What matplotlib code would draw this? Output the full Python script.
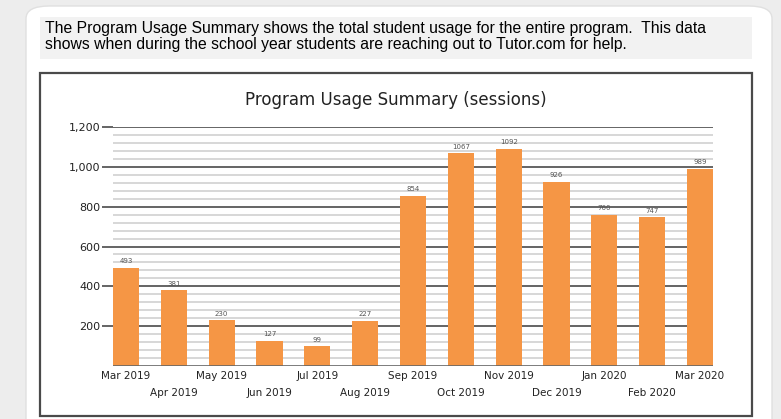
import numpy as np
import matplotlib.pyplot as plt
from matplotlib.patches import Rectangle, FancyBboxPatch

months = ["Mar 2019", "Apr 2019", "May 2019", "Jun 2019", "Jul 2019", "Aug 2019",
          "Sep 2019", "Oct 2019", "Nov 2019", "Dec 2019", "Jan 2020", "Feb 2020", "Mar 2020"]
sessions = [493, 381, 230, 127, 99, 227, 854, 1067, 1092, 926, 760, 747, 989]
yticks = [200, 400, 600, 800, 1000, 1200]

W, H = 781, 419
fig = plt.figure(figsize=(W / 100, H / 100), dpi=100, facecolor="#ededed")

def px(x0, y0, x1, y1):
    # pixel box (top-left origin) -> figure fraction
    return [x0 / W, 1 - y1 / H, (x1 - x0) / W, (y1 - y0) / H]

# page card
fig.patches.append(FancyBboxPatch((26 / W, -0.05), 746 / W, 1 - 6 / H + 0.05,
                                  boxstyle="round,pad=0,rounding_size=0.03",
                                  transform=fig.transFigure, facecolor="white",
                                  edgecolor="#e0e0e0", lw=1, zorder=0))
# description box
fig.patches.append(Rectangle((40 / W, 1 - 59 / H), 712 / W, 42 / H, transform=fig.transFigure,
                             facecolor="#f2f2f2", edgecolor="none", zorder=1))
fig.text(45 / W, 1 - 21 / H,
         "The Program Usage Summary shows the total student usage for the entire program.  This data\n"
         "shows when during the school year students are reaching out to Tutor.com for help.",
         family="Liberation Sans", fontsize=11.3, va="top", ha="left", linespacing=1.05, zorder=2)
# chart frame
fig.patches.append(Rectangle((40 / W, 1 - 416 / H), 712 / W, 343 / H, transform=fig.transFigure,
                             facecolor="white", edgecolor="#4a4a4a", lw=1.6, zorder=1))
fig.text(396 / W, 1 - 100 / H, "Program Usage Summary (sessions)", fontsize=12,
         ha="center", va="center", color="#222222", zorder=2)

ax = fig.add_axes(px(113, 127, 713, 366), zorder=3)
ax.set_facecolor("none")

x = np.arange(len(months))
w = 0.5436
ax.set_xlim(-w / 2, len(months) - 1 + w / 2)
ax.set_ylim(0, 1200)

# grid
for v in np.arange(40, 1200, 40):
    if v % 200:
        ax.axhline(v, color="#d4d4d4", lw=1.3, zorder=1)
for v in yticks:
    ax.axhline(v, color="#3a3a3a", lw=1.1, zorder=1)
ax.axhline(0, color="#666666", lw=1.2, zorder=4)

ax.bar(x, sessions, width=w, color="#f59645", zorder=3)
for xi, v in zip(x, sessions):
    ax.text(xi, v + 18, str(v), ha="center", va="bottom", fontsize=5, color="#555555")

for s in ax.spines.values():
    s.set_visible(False)

ax.set_yticks(yticks)
ax.set_yticklabels([f"{v:,}" for v in yticks], fontsize=8, color="#222222")
ax.tick_params(axis="y", length=8, width=1.1, color="#3a3a3a", pad=1)
ax.set_xticks(x)
ax.set_xticklabels([m if i % 2 == 0 else "\n" + m for i, m in enumerate(months)],
                   fontsize=7.5, color="#222222", linespacing=1.85)
ax.tick_params(axis="x", length=0, pad=3.5)

fig.savefig("out.png", dpi=100, facecolor=fig.get_facecolor())
